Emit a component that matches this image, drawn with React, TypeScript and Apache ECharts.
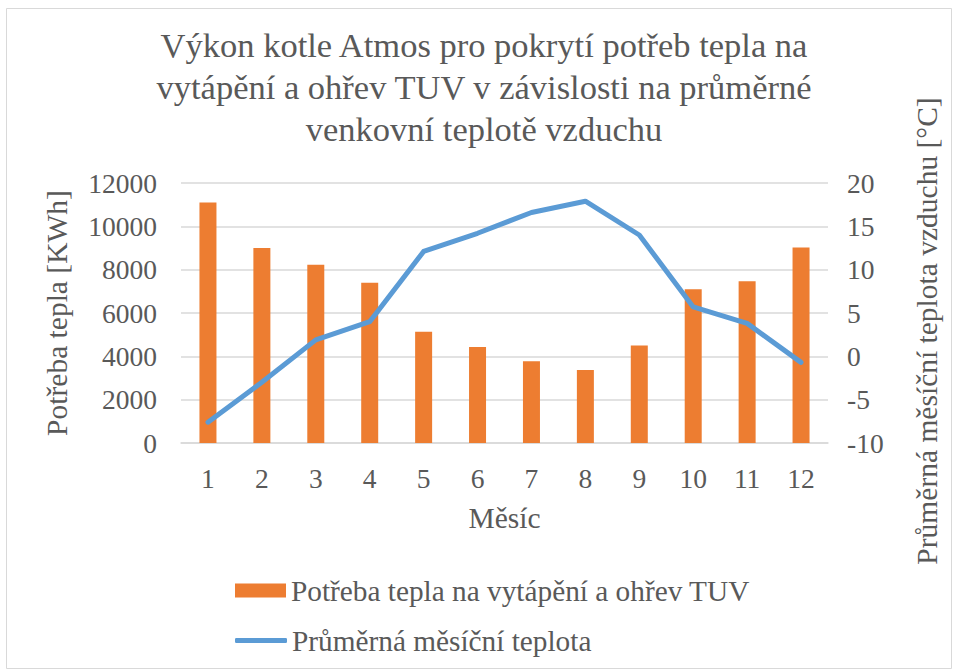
import React, { useEffect, useRef } from "react";
import * as echarts from "echarts";

const months = ["1", "2", "3", "4", "5", "6", "7", "8", "9", "10", "11", "12"];
const heatDemand = [11100, 9000, 8230, 7400, 5140, 4430, 3770, 3370, 4500, 7100, 7460, 9020];
const avgTemp = [-7.6, -3.0, 1.9, 4.0, 12.1, 14.2, 16.6, 17.9, 14.0, 5.7, 3.8, -0.7];
const barName = "Potřeba tepla na vytápění a ohřev TUV";
const lineName = "Průměrná měsíční teplota";
const titleLines = [
  "Výkon kotle Atmos pro pokrytí potřeb tepla na",
  "vytápění a ohřev TUV v závislosti na průměrné",
  "venkovní teplotě vzduchu",
];
const xName = "Měsíc";
const yLeftName = "Potřeba tepla [KWh]";
const yRightName = "Průměrná měsíční teplota vzduchu [°C]";

const FONT = "Liberation Serif";
const TXT = "#595959";
const FS_TICK = 27.5;
const FS_NAME = 29.5;

export default function App() {
  const ref = useRef<HTMLDivElement>(null);
  useEffect(() => {
    if (!ref.current) return;
    const chart = echarts.init(ref.current, null, { renderer: "svg" });
    chart.setOption({
      animation: false,
      backgroundColor: "#fff",
      textStyle: { fontFamily: FONT, color: TXT },
      title: {
        text: titleLines.join("\n"),
        left: 484,
        top: 24,
        padding: 0,
        textAlign: "center",
        textStyle: { fontFamily: FONT, fontSize: 34.5, fontWeight: "normal", color: TXT, lineHeight: 42 },
      },
      grid: { left: 181, right: 126, top: 183, bottom: 228, containLabel: false },
      legend: [
        {
          orient: "vertical",
          left: 235,
          top: 576,
          padding: 0,
          itemWidth: 51,
          itemHeight: 14,
          textStyle: { fontFamily: FONT, fontSize: 29.3, color: TXT },
          data: [{ name: barName, icon: "rect" }],
        },
        {
          orient: "vertical",
          left: 235,
          top: 626,
          padding: 0,
          itemWidth: 52,
          itemHeight: 5,
          textStyle: { fontFamily: FONT, fontSize: 29.3, color: TXT },
          data: [{ name: lineName, icon: "roundRect" }],
        },
      ],
      xAxis: {
        type: "category",
        data: months,
        name: xName,
        nameLocation: "middle",
        nameGap: 60,
        nameTextStyle: { fontFamily: FONT, fontSize: FS_NAME, color: TXT },
        axisLine: { show: true, lineStyle: { color: "#D9D9D9", width: 1.5 } },
        axisTick: { show: false },
        axisLabel: { fontFamily: FONT, fontSize: FS_TICK, color: TXT, margin: 21 },
      },
      yAxis: [
        {
          type: "value",
          min: 0,
          max: 12000,
          interval: 2000,
          name: yLeftName,
          nameLocation: "middle",
          nameGap: 109,
          nameRotate: 90,
          nameTextStyle: { fontFamily: FONT, fontSize: FS_NAME, color: TXT },
          axisLine: { show: false },
          axisTick: { show: false },
          axisLabel: { fontFamily: FONT, fontSize: FS_TICK, color: TXT, margin: 24, formatter: (v: number) => String(v) },
          splitLine: { lineStyle: { color: "#D9D9D9", width: 1.5 } },
        },
        {
          type: "value",
          min: -10,
          max: 20,
          interval: 5,
          axisLine: { show: false },
          axisTick: { show: false },
          axisLabel: { fontFamily: FONT, fontSize: FS_TICK, color: TXT, margin: 19, formatter: (v: number) => String(v) },
          splitLine: { show: false },
        },
      ],
      graphic: [
        {
          type: "rect",
          left: 4,
          top: 6,
          shape: { width: 945, height: 660 },
          style: { fill: "none", stroke: "#D9D9D9", lineWidth: 1 },
          silent: true,
        },
        {
          type: "text",
          x: 927,
          y: 331,
          rotation: Math.PI / 2,
          style: {
            text: yRightName,
            fontFamily: FONT,
            fontSize: FS_NAME,
            fill: TXT,
            align: "center",
            verticalAlign: "middle",
          },
        },
      ],
      series: [
        {
          name: barName,
          type: "bar",
          data: heatDemand,
          barWidth: 17,
          itemStyle: { color: "#ED7D31" },
          yAxisIndex: 0,
        },
        {
          name: lineName,
          type: "line",
          data: avgTemp,
          yAxisIndex: 1,
          symbol: "none",
          showSymbol: false,
          lineStyle: { color: "#5B9BD5", width: 5, cap: "round", join: "round" },
          itemStyle: { color: "#5B9BD5" },
        },
      ],
    });
    return () => chart.dispose();
  }, []);
  return <div ref={ref} style={{ position: "fixed", left: 0, top: 0, width: 954, height: 671 }} />;
}
